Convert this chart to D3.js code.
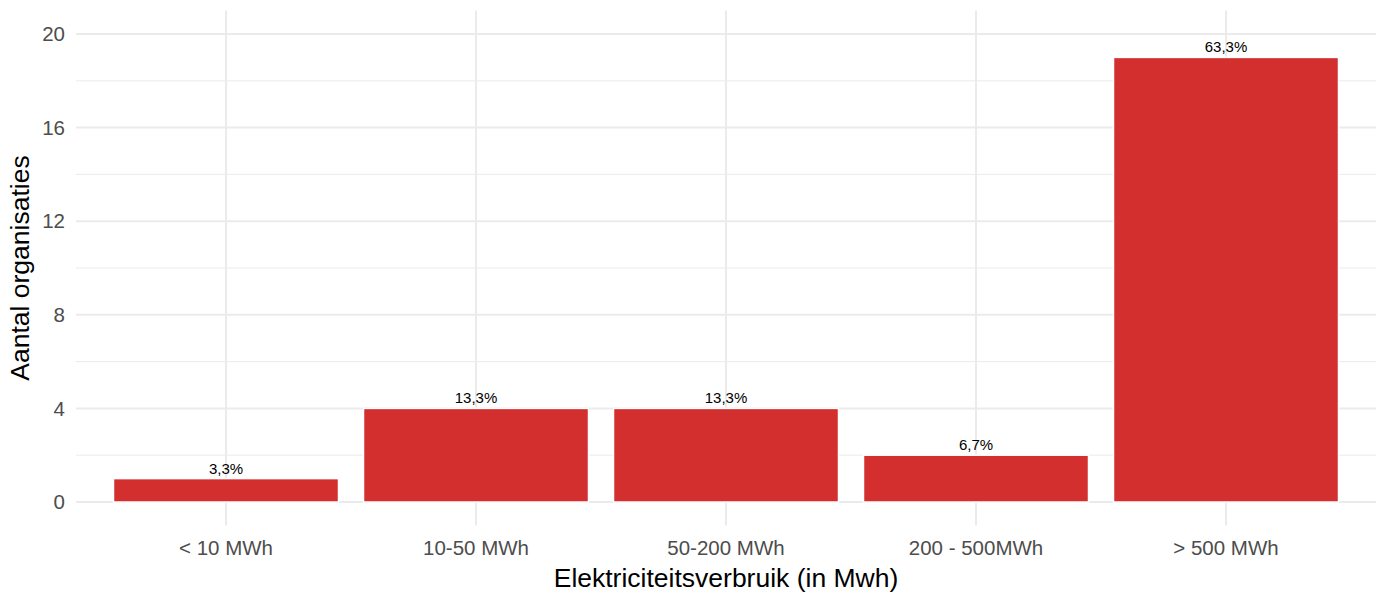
<!DOCTYPE html>
<html>
<head>
<meta charset="utf-8">
<script src="https://cdn.jsdelivr.net/npm/d3@7"></script>
<style>
  body { margin: 0; background: #fff; }
  text { font-family: "Liberation Sans", Arial, sans-serif; }
</style>
</head>
<body>
<script>
/* Data
***********************************************************************/
var categories = ["< 10 MWh", "10-50 MWh", "50-200 MWh", "200 - 500MWh", "> 500 MWh"];
var counts = [1, 4, 4, 2, 19];
var pctLabels = ["3,3%", "13,3%", "13,3%", "6,7%", "63,3%"];
var majorTicks = [0, 4, 8, 12, 16, 20];
var minorTicks = [2, 6, 10, 14, 18];

/* Setup
***********************************************************************/
var svgW = 1386;
var svgH = 592;
var panel = {left: 76, right: 1376, top: 10.6, bottom: 525.4};

var svg = d3.select("body").append("svg")
	.attr("width", svgW)
	.attr("height", svgH);

// discrete scale with ggplot-like 0.6 expansion
var xScale = d3.scaleLinear()
	.domain([0.4, 5.6])
	.range([panel.left, panel.right]);
var yScale = d3.scaleLinear()
	.domain([-1, 21])
	.range([panel.bottom, panel.top]);

var gridCol = "#ebebeb";

/* Grid
***********************************************************************/
var grid = svg.append("g");
grid.selectAll(".minor").data(minorTicks).enter().append("line")
	.attr("x1", panel.left).attr("x2", panel.right)
	.attr("y1", function(d) { return yScale(d); })
	.attr("y2", function(d) { return yScale(d); })
	.attr("stroke", gridCol).attr("stroke-width", 1);
grid.selectAll(".major").data(majorTicks).enter().append("line")
	.attr("x1", panel.left).attr("x2", panel.right)
	.attr("y1", function(d) { return yScale(d); })
	.attr("y2", function(d) { return yScale(d); })
	.attr("stroke", gridCol).attr("stroke-width", 2);
grid.selectAll(".vert").data(categories).enter().append("line")
	.attr("x1", function(d, i) { return xScale(i + 1); })
	.attr("x2", function(d, i) { return xScale(i + 1); })
	.attr("y1", panel.top).attr("y2", panel.bottom)
	.attr("stroke", gridCol).attr("stroke-width", 2);

/* Bars + labels
***********************************************************************/
var barW = xScale(1.9) - xScale(1);
svg.append("g").selectAll("rect").data(counts).enter().append("rect")
	.attr("x", function(d, i) { return xScale(i + 1) - barW / 2; })
	.attr("y", function(d) { return yScale(d); })
	.attr("width", barW)
	.attr("height", function(d) { return yScale(0) - yScale(d); })
	.attr("fill", "#d32f2f")
	.attr("stroke", "#ffffff")
	.attr("stroke-width", 1.5);

svg.append("g").selectAll("text").data(counts).enter().append("text")
	.attr("x", function(d, i) { return xScale(i + 1); })
	.attr("y", function(d) { return yScale(d) - 5; })
	.attr("text-anchor", "middle")
	.attr("font-size", "15px")
	.attr("fill", "#000")
	.text(function(d, i) { return pctLabels[i]; });

/* Axes text
***********************************************************************/
svg.append("g").selectAll("text").data(majorTicks).enter().append("text")
	.attr("x", panel.left - 11)
	.attr("y", function(d) { return yScale(d); })
	.attr("dy", "0.35em")
	.attr("text-anchor", "end")
	.attr("font-size", "20.5px")
	.attr("fill", "#4d4d4d")
	.text(function(d) { return d; });

svg.append("g").selectAll("text").data(categories).enter().append("text")
	.attr("x", function(d, i) { return xScale(i + 1); })
	.attr("y", 555)
	.attr("text-anchor", "middle")
	.attr("font-size", "20.5px")
	.attr("fill", "#4d4d4d")
	.text(function(d) { return d; });

svg.append("text")
	.attr("x", (panel.left + panel.right) / 2)
	.attr("y", 587)
	.attr("text-anchor", "middle")
	.attr("font-size", "26.5px")
	.attr("fill", "#000")
	.text("Elektriciteitsverbruik (in Mwh)");

svg.append("text")
	.attr("transform", "translate(29," + ((panel.top + panel.bottom) / 2) + ") rotate(-90)")
	.attr("text-anchor", "middle")
	.attr("font-size", "26.5px")
	.attr("fill", "#000")
	.text("Aantal organisaties");
</script>
</body>
</html>
